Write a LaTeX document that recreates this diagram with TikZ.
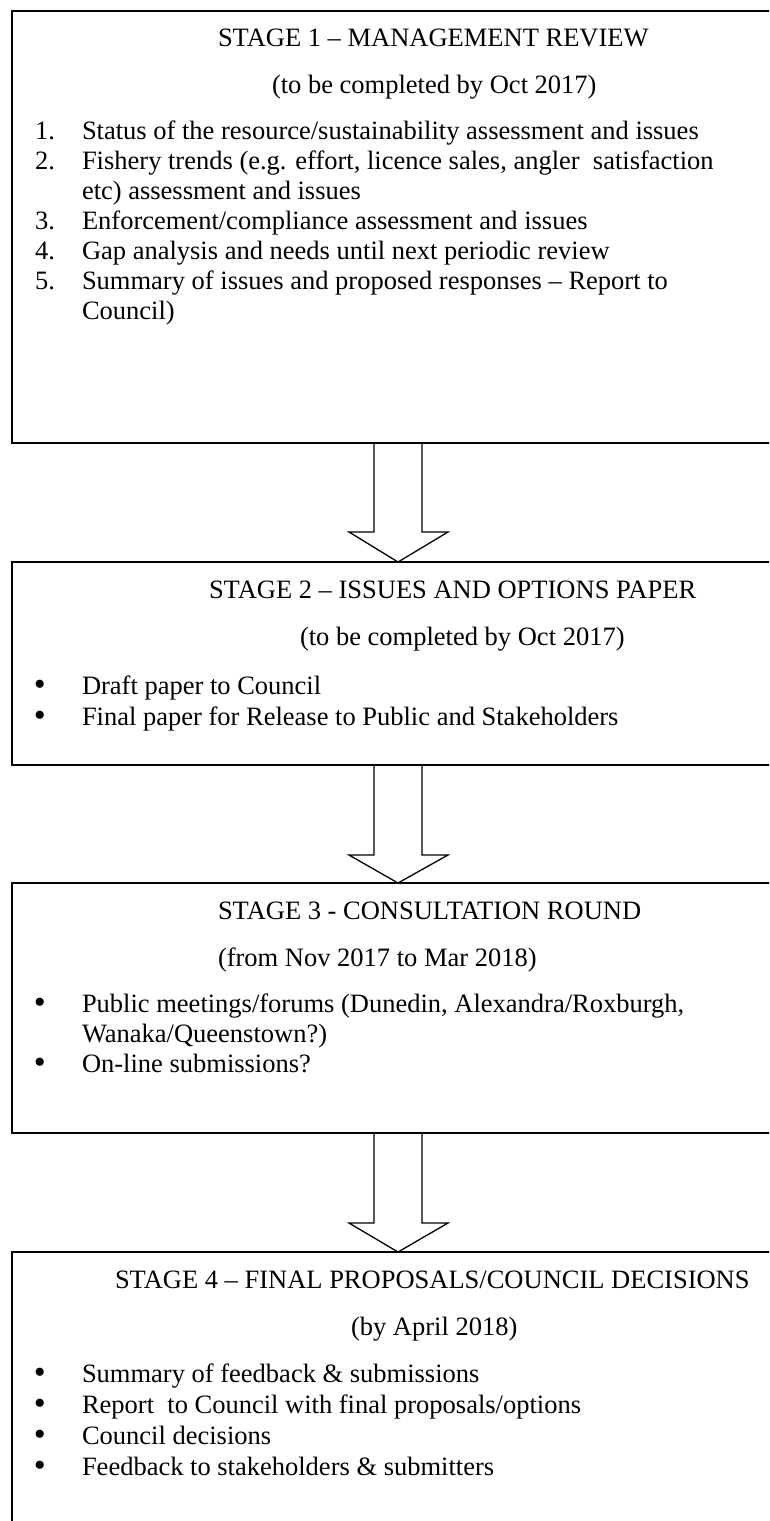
\documentclass[tikz,border=0pt]{standalone}
\usepackage{fontspec}
\setmainfont{Liberation Serif}
\tikzset{
  boxline/.style={line width=1.8pt, line cap=rect},
  arrowline/.style={line width=1.3pt, line join=miter},
  txt/.style={inner sep=0pt, outer sep=0pt, anchor=base west, font=\fontsize{26.5}{30}\selectfont},
  dot/.style={inner sep=0pt, outer sep=0pt, anchor=base west, font=\fontsize{34}{34}\selectfont},
}
\newcommand\blockarrow[3]{%
  \draw[arrowline] (374,#1) -- (374,#2) -- (349,#2) -- (398,#3) -- (448,#2) -- (422,#2) -- (422,#1);}
\begin{document}
\begin{tikzpicture}[x=1pt,y=-1pt]
\useasboundingbox (0,0) rectangle (769,1521);
\clip (0,0) rectangle (769,1521);
% boxes
\coordinate (b1t) at (12,11);  \coordinate (b1b) at (12,443);
\coordinate (b2t) at (12,562); \coordinate (b2b) at (12,765);
\coordinate (b3t) at (12,883); \coordinate (b3b) at (12,1133);
\coordinate (b4t) at (12,1252);
\draw[boxline] (800,11) -- (b1t) -- (b1b) -- (800,443);
\draw[boxline] (800,562) -- (b2t) -- (b2b) -- (800,765);
\draw[boxline] (800,883) -- (b3t) -- (b3b) -- (800,1133);
\draw[boxline] (800,1252) -- (b4t) -- (12,1540);
% arrows
\blockarrow{443}{532}{562}
\blockarrow{765}{855}{883}
\blockarrow{1133}{1223}{1252}
% stage 1
\node[txt] (s1t) at (218,46) {STAGE 1 – MANAGEMENT REVIEW};
\node[txt] (s1s) at (272,93) {(to be completed by Oct 2017)};
\node[txt] (n1) at (35,139) {1.};
\node[txt] (l1) at (82,139) {Status of the resource/sustainability assessment and issues};
\node[txt] (n2) at (35,169) {2.};
\node[txt] (l2) at (82,169) {Fishery trends (e.g. effort, licence sales, angler\ \ satisfaction};
\node[txt] (l2b) at (82,199) {etc) assessment and issues};
\node[txt] (n3) at (35,229) {3.};
\node[txt] (l3) at (82,229) {Enforcement/compliance assessment and issues};
\node[txt] (n4) at (35,259) {4.};
\node[txt] (l4) at (82,259) {Gap analysis and needs until next periodic review};
\node[txt] (n5) at (35,289) {5.};
\node[txt] (l5) at (82,289) {Summary of issues and proposed responses – Report to};
\node[txt] (l5b) at (82,319) {Council)};
% stage 2
\node[txt] (s2t) at (209,598) {STAGE 2 – ISSUES AND OPTIONS PAPER};
\node[txt] (s2s) at (300,645) {(to be completed by Oct 2017)};
\node[dot] (d1) at (34,695) {•};
\node[txt] (m1) at (82,694) {Draft paper to Council};
\node[dot] (d2) at (34,726) {•};
\node[txt] (m2) at (82,725) {Final paper for Release to Public and Stakeholders};
% stage 3
\node[txt] (s3t) at (218,919) {STAGE 3 - CONSULTATION ROUND};
\node[txt] (s3s) at (218,966) {(from Nov 2017 to Mar 2018)};
\node[dot] (e1) at (34,1013) {•};
\node[txt] (p1) at (82,1012) {Public meetings/forums (Dunedin, Alexandra/Roxburgh,};
\node[txt] (p1b) at (82,1042) {Wanaka/Queenstown?)};
\node[dot] (e2) at (34,1073) {•};
\node[txt] (p2) at (82,1072) {On-line submissions?};
% stage 4
\node[txt] (s4t) at (115,1288) {STAGE 4 – FINAL PROPOSALS/COUNCIL DECISIONS};
\node[txt] (s4s) at (351,1335) {(by April 2018)};
\node[dot] (f1) at (34,1383) {•};
\node[txt] (q1) at (82,1382) {Summary of feedback \& submissions};
\node[dot] (f2) at (34,1414) {•};
\node[txt] (q2) at (82,1413) {Report\ \ to Council with final proposals/options};
\node[dot] (f3) at (34,1445) {•};
\node[txt] (q3) at (82,1444) {Council decisions};
\node[dot] (f4) at (34,1476) {•};
\node[txt] (q4) at (82,1475) {Feedback to stakeholders \& submitters};
\end{tikzpicture}
\end{document}
